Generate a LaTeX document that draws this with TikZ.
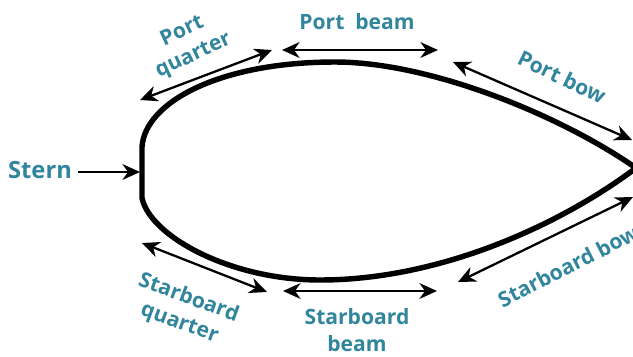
\documentclass[tikz,border=0pt]{standalone}
\usepackage{fontspec}
\setmainfont{Open Sans}
\usetikzlibrary{arrows.meta}
\definecolor{teal1}{HTML}{31859C}
\begin{document}
\begin{tikzpicture}[x=0.02cm,y=-0.02cm,
  lbl/.style={text=teal1,font=\bfseries\fontsize{12}{15}\selectfont,align=center,inner sep=0pt},
  hull/.style={line width=3.1pt,line join=round},
  dim/.style={line width=1.3pt,{Stealth[length=10pt,width=9pt,inset=3.2pt]}-{Stealth[length=10pt,width=9pt,inset=3.2pt]}},
  sarrow/.style={line width=1.3pt,-{Stealth[length=10pt,width=9pt,inset=3.2pt]}}]
\useasboundingbox (0,0) rectangle (633,356);
% hull
\draw[hull] (142,198) -- (142,147)
  .. controls (145,102) and (220,62) .. (335,62)
  .. controls (430,62) and (560,115) .. (636,168)
  .. controls (560,225) and (440,280) .. (320,280)
  .. controls (230,280) and (150,236) .. (142,198) -- cycle;
% labels
\node[lbl,rotate=25] (pq) at (188,44) {Port\\quarter};
\node[lbl] (pb) at (357,22) {Port\ \ beam};
\node[lbl,rotate=-26] (pbow) at (562,77) {Port bow};
\node[lbl,font=\bfseries\fontsize{13.5}{16}\selectfont] (stern) at (40,170) {Stern};
\node[lbl,rotate=-20] (sq) at (184,311) {Starboard\\quarter};
\node[lbl] (sb) at (357,330) {Starboard\\beam};
\node[lbl,rotate=27] (sbow) at (568,266) {Starboard bow};
% arrow ends
\coordinate (pq1) at (140,100); \coordinate (pq2) at (272,50);
\coordinate (pb1) at (282,50); \coordinate (pb2) at (438,50);
\coordinate (pw1) at (453,62); \coordinate (pw2) at (632,140);
\coordinate (st2) at (140,172); \coordinate (st1) at (78,172);
\coordinate (sq1) at (142,243); \coordinate (sq2) at (267,292);
\coordinate (sb1) at (283,291); \coordinate (sb2) at (437,291);
\coordinate (sw1) at (458,282); \coordinate (sw2) at (633,197);
\draw[dim] (pq1) -- (pq2);
\draw[dim] (pb1) -- (pb2);
\draw[dim] (pw1) -- (pw2);
\draw[sarrow] (st1) -- (st2);
\draw[dim] (sq1) -- (sq2);
\draw[dim] (sb1) -- (sb2);
\draw[dim] (sw1) -- (sw2);
\end{tikzpicture}
\end{document}
